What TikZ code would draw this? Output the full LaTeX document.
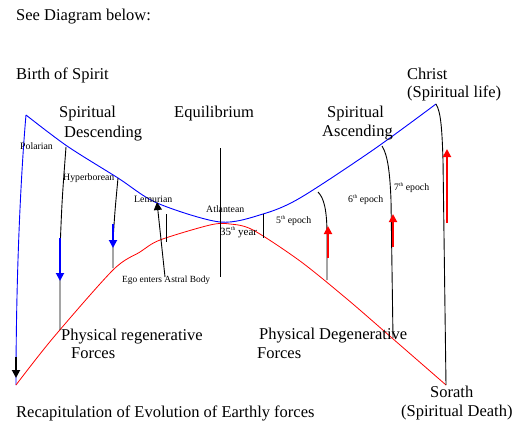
\documentclass[tikz,border=0pt]{standalone}
\usepackage{fontspec}
\setmainfont{Liberation Serif}
\usetikzlibrary{arrows.meta,positioning}
\newcommand{\epsup}[1]{\raisebox{0.8ex}{\fontsize{5.5}{6}\selectfont #1}}

\begin{document}
\begin{tikzpicture}[
    x=1pt, y=-1pt,
    bigtext/.style={inner sep=0pt, anchor=base west, font=\fontsize{16.5}{19}\selectfont},
    smalltext/.style={inner sep=0pt, anchor=base west, font=\fontsize{9.8}{11}\selectfont},
    spiritcurve/.style={blue, line width=0.9pt},
    earthcurve/.style={red, line width=0.8pt},
    epochline/.style={black, line width=0.9pt},
    seta/.style={-{Triangle[width=8pt,length=8pt]}, line width=1.8pt}
  ]
  \useasboundingbox (0,0) rectangle (525,439);

  % key points of the curves
  \coordinate (recap) at (16,385);
  \coordinate (birth) at (26,115);
  \coordinate (christ) at (436,104);
  \coordinate (sorath) at (446,385);

  % spiritual curve (blue)
  \draw[spiritcurve] (recap) .. controls (16,260) and (22,160) .. (birth);
  \draw[spiritcurve] plot[smooth] coordinates {(26,115) (67,146) (118,178) (157,203) (220,222) (263,214) (300,198) (373,150) (436,104)};

  % earthly forces (red)
  \draw[earthcurve] plot[smooth] coordinates {(16,385) (53,338) (113,270) (140,252) (160,240) (210,225) (230,224) (253,230) (300,261) (347,299) (392,338) (446,385)};

  % epoch lines
  \coordinate (polTop) at (66,147);   \coordinate (polBot) at (60,330);
  \coordinate (hypTop) at (118,178);  \coordinate (hypBot) at (113,268);
  \coordinate (lemTop) at (166,214);  \coordinate (lemBot) at (166,242);
  \coordinate (eqTop) at (220,148);   \coordinate (eqBot) at (220,277);
  \coordinate (atlTop) at (263,214);  \coordinate (atlBot) at (263,238);
  \coordinate (fifTop) at (318,192);  \coordinate (fifBot) at (327,280);
  \coordinate (sixTop) at (382,146);  \coordinate (sixBot) at (393,338);

  \draw[epochline] (polTop) .. controls (62,200) .. (60,250) -- (polBot);
  \draw[epochline] (hypTop) .. controls (115,210) .. (113,240) -- (hypBot);
  \draw[epochline] (lemTop) -- (lemBot);
  \draw[epochline] (eqTop) -- (eqBot);
  \draw[epochline] (atlTop) -- (atlBot);
  \draw[epochline] (fifTop) .. controls (324,198) and (327,210) .. (327,235) -- (fifBot);
  \draw[epochline] (sixTop) .. controls (388,155) and (390,175) .. (391,200) -- (sixBot);
  \draw[epochline] (christ) .. controls (441,112) and (442,130) .. (443,160) -- (sorath);

  % arrows
  \coordinate (recA) at (16,357);   \coordinate (recB) at (16,378);
  \coordinate (dscA) at (60,238);   \coordinate (dscB) at (60,281);
  \coordinate (dsdA) at (113,224);  \coordinate (dsdB) at (113,248);
  \coordinate (egoA) at (165,277);  \coordinate (egoB) at (157,202);
  \coordinate (ascA5) at (328,258); \coordinate (ascB5) at (328,226);
  \coordinate (ascA6) at (393,247); \coordinate (ascB6) at (393,214);
  \coordinate (ascA7) at (447,223); \coordinate (ascB7) at (447,149);

  \draw[seta, black] (recA) -- (recB);
  \draw[seta, blue] (dscA) -- (dscB);
  \draw[seta, blue] (dsdA) -- (dsdB);
  \draw[epochline, -{Triangle[width=8pt,length=8pt]}] (egoA) -- (egoB);
  \draw[seta, red] (ascA5) -- (ascB5);
  \draw[seta, red] (ascA6) -- (ascB6);
  \draw[seta, red] (ascA7) -- (ascB7);

  % texts
  \node[bigtext] (see) at (16,20) {See Diagram below:};
  \node[bigtext] (birthTxt) at (16,79) {Birth of Spirit};
  \node[bigtext] (descA) at (59,117) {Spiritual};
  \node[bigtext] (descB) at (64,137) {Descending};
  \node[bigtext] (equi) at (174,117) {Equilibrium};
  \node[bigtext] (ascendA) at (327,117) {Spiritual};
  \node[bigtext] (ascendB) at (322,136) {Ascending};
  \node[bigtext] (christA) at (407,79) {Christ};
  \node[bigtext] (christB) at (407,97) {(Spiritual life)};

  \node[smalltext] (polar) at (20,149) {Polarian};
  \node[smalltext] (hyper) at (63,180) {Hyperborean};
  \node[smalltext] (lemur) at (134,202) {Lemurian};
  \node[smalltext] (atlan) at (206,212) {Atlantean};
  \node[smalltext, font=\fontsize{11}{12}\selectfont] (year) at (220,235) {35\epsup{th} year};
  \node[smalltext] (epoch5) at (276,223) {5\epsup{th} epoch};
  \node[smalltext] (epoch6) at (348,202) {6\epsup{th} epoch};
  \node[smalltext] (epoch7) at (394,190) {7\epsup{th} epoch};
  \node[smalltext, font=\fontsize{9.4}{11}\selectfont] (ego) at (122,282) {Ego enters Astral Body};

  \node[bigtext] (regenA) at (61,340) {Physical regenerative};
  \node[bigtext] (regenB) at (71,358) {Forces};
  \node[bigtext] (degenA) at (259,339) {Physical Degenerative};
  \node[bigtext] (degenB) at (257,358) {Forces};
  \node[bigtext] (sorathA) at (430,397) {Sorath};
  \node[bigtext] (sorathB) at (401,416) {(Spiritual Death)};
  \node[bigtext] (recapTxt) at (16,417) {Recapitulation of Evolution of Earthly forces};
\end{tikzpicture}
\end{document}
